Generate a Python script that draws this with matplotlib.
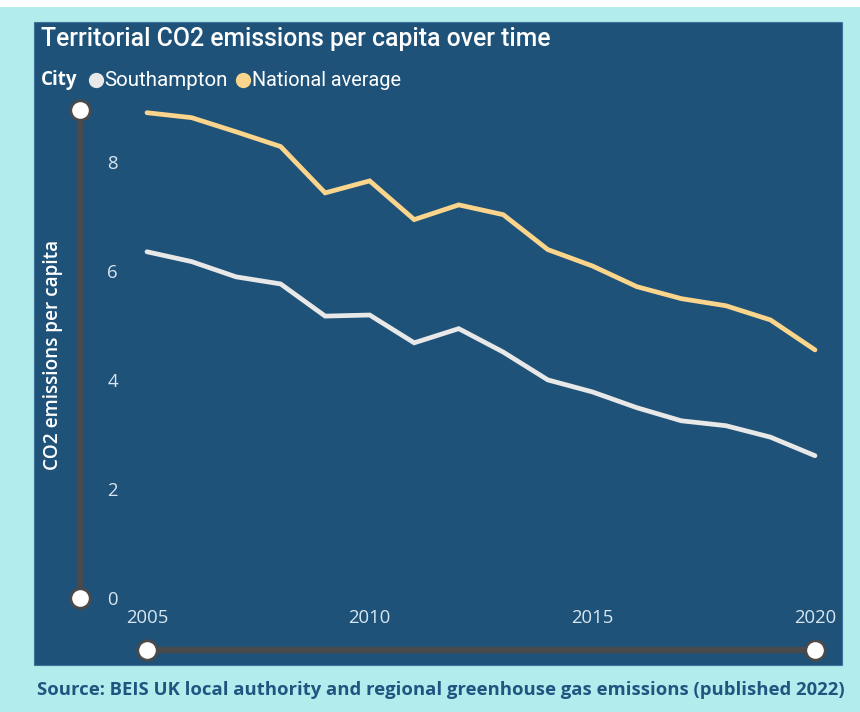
import matplotlib
matplotlib.use("Agg")
import matplotlib.pyplot as plt
from matplotlib.patches import Rectangle
from matplotlib.lines import Line2D

years = list(range(2005, 2021))
southampton = [6.35, 6.17, 5.89, 5.76, 5.17, 5.19, 4.68, 4.94, 4.51, 4.00, 3.78, 3.49, 3.25, 3.16, 2.95, 2.61]
national = [8.90, 8.81, 8.55, 8.28, 7.43, 7.65, 6.94, 7.21, 7.03, 6.39, 6.09, 5.71, 5.49, 5.36, 5.10, 4.55]
series_names = ["Southampton", "National average"]
y_ticks = [0, 2, 4, 6, 8]
x_ticks = [2005, 2010, 2015, 2020]

BG = "#b3eced"
PANEL = "#1f5279"
WHITE_LINE = "#e8e8e8"
YELLOW = "#fbd58b"
TICK = "#d8e6f0"
SLIDER = "#4a4a4a"
FONT = ["Open Sans", "DejaVu Sans"]
TFONT = ["Roboto", "DejaVu Sans"]

W, H = 860, 712
fig = plt.figure(figsize=(W / 100, H / 100), dpi=100)
fig.patch.set_facecolor(BG)

def fx(px):
    return px / W

def fy(py):
    return 1 - py / H

# background axes for decoration
bg = fig.add_axes([0, 0, 1, 1], zorder=-5)
bg.set_xlim(0, W)
bg.set_ylim(H, 0)
bg.axis("off")
bg.add_patch(Rectangle((0, 0), W, 7, facecolor="white", edgecolor="none"))
bg.add_patch(Rectangle((34, 22), 842 - 34, 665 - 22, facecolor=PANEL,
                       edgecolor="#3f7299", linewidth=0.8))

ax_l, ax_r, ax_b, ax_t = 147, 815, 598, 110
ax = fig.add_axes([fx(ax_l), fy(ax_b), fx(ax_r - ax_l), (ax_b - ax_t) / H], zorder=1)
ax.set_facecolor("none")
ymax = 8.95
ax.set_xlim(2005, 2020)
ax.set_ylim(0, ymax)
for s in ax.spines.values():
    s.set_visible(False)

ax.plot(years, national, color=YELLOW, lw=3.4, solid_capstyle="round",
        solid_joinstyle="miter", clip_on=False, zorder=3)
ax.plot(years, southampton, color=WHITE_LINE, lw=3.4, solid_capstyle="round",
        solid_joinstyle="miter", clip_on=False, zorder=3)

ax.set_yticks(y_ticks)
ax.set_yticklabels([str(t) for t in y_ticks])
ax.set_xticks(x_ticks)
ax.set_xticklabels([str(t) for t in x_ticks])
ax.tick_params(axis="both", length=0, colors=TICK, labelsize=13.3)
ax.tick_params(axis="y", pad=21)
ax.tick_params(axis="x", pad=8)
for lab in ax.get_xticklabels() + ax.get_yticklabels():
    lab.set_family(FONT)

# y slider
ys_x = (80 - ax_l) / (ax_r - ax_l)
ax.add_line(Line2D([ys_x, ys_x], [0, 1], transform=ax.transAxes, color=SLIDER,
                   lw=4.5, clip_on=False, zorder=2))
for yy in [0, 1]:
    ax.plot([ys_x], [yy], transform=ax.transAxes, marker="o", ms=14,
            mfc="white", mec=SLIDER, mew=2, clip_on=False, zorder=4)

# x slider
xs_y = -(650 - ax_b) / (ax_b - ax_t)
ax.add_line(Line2D([0, 1], [xs_y, xs_y], transform=ax.transAxes, color=SLIDER,
                   lw=4.5, clip_on=False, zorder=2))
for xx in [0, 1]:
    ax.plot([xx], [xs_y], transform=ax.transAxes, marker="o", ms=14,
            mfc="white", mec=SLIDER, mew=2, clip_on=False, zorder=4)

# y label
bg.text(53, 355, "CO2 emissions per capita", rotation=90, color="white",
        fontsize=13.7, family=FONT, weight="semibold", ha="center", va="center")

# title
bg.text(41, 39, "Territorial CO2 emissions per capita over time",
        color="white", fontsize=17.8, family=TFONT, weight="medium",
        ha="left", va="center")

# legend
bg.text(41, 80, "City", color="white", fontsize=13.5, family=FONT,
        weight="bold", ha="left", va="center")
bg.plot([96], [80], marker="o", ms=11, mfc=WHITE_LINE, mec="none", linestyle="none")
bg.text(104, 80, series_names[0], color="white", fontsize=14.8,
        family=TFONT, ha="left", va="center")
bg.plot([243], [80], marker="o", ms=11, mfc=YELLOW, mec="none", linestyle="none")
bg.text(252, 80, series_names[1], color="white", fontsize=14.3,
        family=TFONT, ha="left", va="center")

# source
bg.text(441, 690,
        "Source: BEIS UK local authority and regional greenhouse gas emissions (published 2022)",
        color="#1e5680", fontsize=13.3, family=FONT, weight="bold",
        ha="center", va="center")

fig.savefig("out.png", dpi=100, facecolor=fig.get_facecolor())
